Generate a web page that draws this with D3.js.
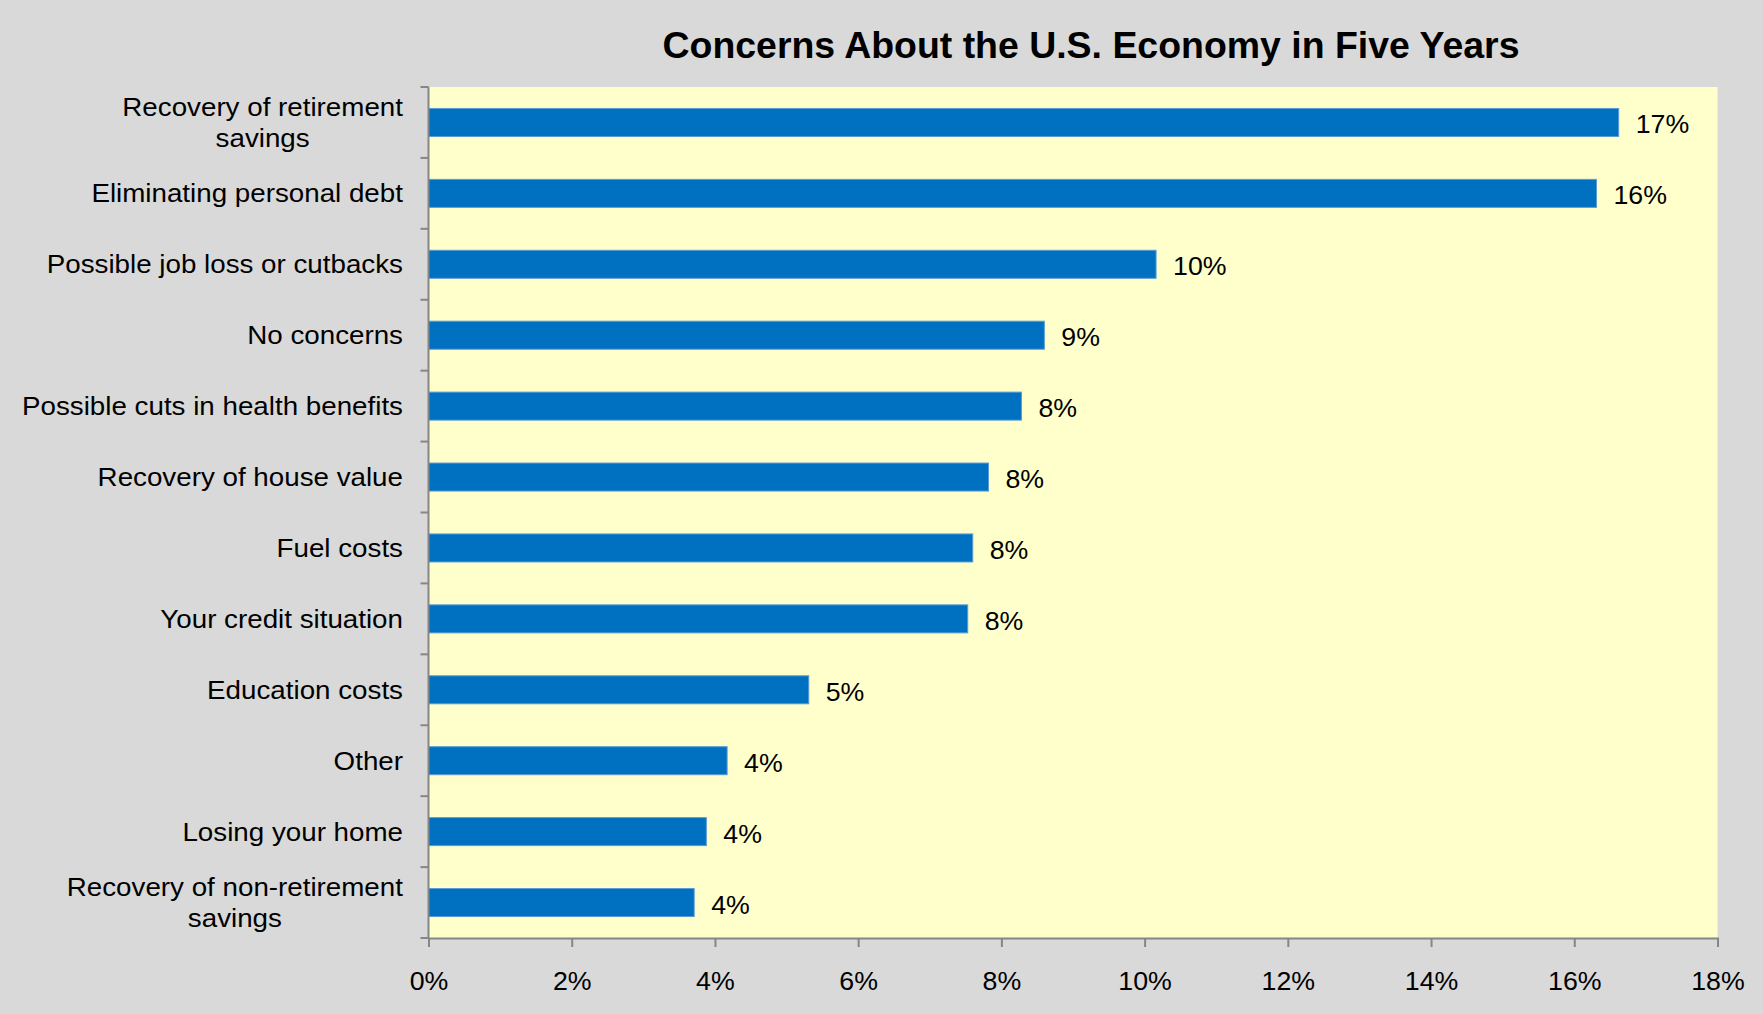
<!DOCTYPE html>
<html>
<head>
<meta charset="utf-8">
<script src="https://cdn.jsdelivr.net/npm/d3@7"></script>
<style>
  html, body { margin: 0; padding: 0; background: #d9d9d9; }
  svg { display: block; font-family: "Liberation Sans", Arial, sans-serif; }
</style>
</head>
<body>
<svg id="chart" width="1763" height="1014"></svg>
<script>
// Survey responses, top to bottom
const categories = [
  "Recovery of retirement savings",
  "Eliminating personal debt",
  "Possible job loss or cutbacks",
  "No concerns",
  "Possible cuts in health benefits",
  "Recovery of house value",
  "Fuel costs",
  "Your credit situation",
  "Education costs",
  "Other",
  "Losing your home",
  "Recovery of non-retirement savings"
];
// Line breaks used for the long category names
const labelLines = [
  ["Recovery of retirement", "savings"],
  ["Eliminating personal debt"],
  ["Possible job loss or cutbacks"],
  ["No concerns"],
  ["Possible cuts in health benefits"],
  ["Recovery of house value"],
  ["Fuel costs"],
  ["Your credit situation"],
  ["Education costs"],
  ["Other"],
  ["Losing your home"],
  ["Recovery of non-retirement", "savings"]
];
const shares = [0.1662, 0.1631, 0.1016, 0.0860, 0.0828, 0.0782, 0.0760, 0.0753, 0.0531, 0.0417, 0.0388, 0.0371];
const xTicks = [0, 0.02, 0.04, 0.06, 0.08, 0.10, 0.12, 0.14, 0.16, 0.18];
const titleText = "Concerns About the U.S. Economy in Five Years";

const plot = { left: 428.5, right: 1717.5, top: 87, bottom: 938 };
const svg = d3.select("#chart");
const fmt = d3.format(".0%");

// Text is drawn slightly wide; helper stretches a text node horizontally about its anchor x
function widen(sel, sx) {
  sel.each(function () {
    const t = d3.select(this);
    const ax = +t.attr("x") || 0;
    const prev = t.attr("transform") || "";
    t.attr("transform", `${prev} translate(${ax},0) scale(${sx},1) translate(${-ax},0)`);
  });
}

svg.append("rect").attr("width", 1763).attr("height", 1014).attr("fill", "#d9d9d9");

const x = d3.scaleLinear().domain([0, 0.18]).range([plot.left, plot.right]);
const y = d3.scaleBand().domain(categories).range([plot.top, plot.bottom])
  .paddingInner(0.605).paddingOuter(0.3025);

// Plot background
svg.append("rect")
  .attr("x", plot.left).attr("y", plot.top)
  .attr("width", plot.right - plot.left).attr("height", plot.bottom - plot.top)
  .attr("fill", "#ffffcc");

// Title
svg.append("text")
  .attr("x", 1091).attr("y", 58)
  .attr("text-anchor", "middle")
  .attr("font-size", 36).attr("font-weight", "bold").attr("fill", "#000")
  .text(titleText)
  .call(widen, 1.04);

// Bars
svg.append("g").selectAll("rect")
  .data(categories)
  .join("rect")
  .attr("x", x(0))
  .attr("y", d => y(d))
  .attr("width", (d, i) => x(shares[i]) - x(0))
  .attr("height", y.bandwidth())
  .attr("fill", "#0070c0")
  .attr("stroke", "#5b9bd5")
  .attr("stroke-width", 1);

// Value labels
svg.append("g").selectAll("text")
  .data(categories)
  .join("text")
  .attr("x", (d, i) => x(shares[i]) + 17)
  .attr("y", d => y(d) + y.bandwidth() / 2 + 11)
  .attr("font-size", 25).attr("fill", "#000")
  .text((d, i) => fmt(shares[i]))
  .call(widen, 1.07);

// X axis
const xAxis = d3.axisBottom(x).tickValues(xTicks).tickFormat(fmt).tickSize(9).tickPadding(0);
const gx = svg.append("g").attr("transform", `translate(0,${plot.bottom})`).call(xAxis);
gx.select(".domain").attr("stroke", "#868686").attr("stroke-width", 2);
gx.selectAll(".tick line").attr("stroke", "#868686").attr("stroke-width", 2);
gx.selectAll(".tick text")
  .attr("font-size", 25).attr("font-family", "Liberation Sans, Arial, sans-serif")
  .attr("fill", "#000").attr("dy", null).attr("y", 52)
  .call(widen, 1.07);

// Y axis line with ticks at category boundaries
const step = y.step();
const boundaries = d3.range(categories.length + 1).map(i => plot.top + i * step);
const gy = svg.append("g");
gy.append("line")
  .attr("x1", plot.left).attr("x2", plot.left)
  .attr("y1", plot.top).attr("y2", plot.bottom)
  .attr("stroke", "#868686").attr("stroke-width", 2);
gy.selectAll("line.tick")
  .data(boundaries)
  .join("line")
  .attr("class", "tick")
  .attr("x1", plot.left - 8).attr("x2", plot.left)
  .attr("y1", d => d).attr("y2", d => d)
  .attr("stroke", "#868686").attr("stroke-width", 2);

// Category labels: lines centered on each other, block right-aligned
const labelRight = 403;
const lineGap = 31.5;
const labelStretch = 1.11;
categories.forEach((c, i) => {
  const lines = labelLines[i];
  const cy = y(c) + y.bandwidth() / 2;
  const t = svg.append("text")
    .attr("font-size", 25).attr("fill", "#000")
    .attr("text-anchor", "middle");
  lines.forEach((ln, j) => {
    t.append("tspan")
      .attr("x", 0)
      .attr("y", cy + 9 + (j - (lines.length - 1) / 2) * lineGap)
      .text(ln);
  });
  const w = t.node().getBBox().width * labelStretch;
  t.attr("transform", `translate(${labelRight - w / 2},0) scale(${labelStretch},1)`);
});
</script>
</body>
</html>
